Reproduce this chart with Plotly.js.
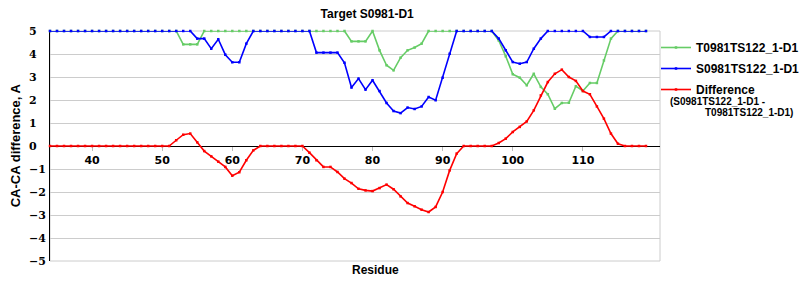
<!DOCTYPE html>
<html>
<head>
<meta charset="utf-8">
<script src="https://cdn.plot.ly/plotly-3.0.1.min.js"></script>
<style>html,body{margin:0;padding:0;background:#fff}#chart{width:800px;height:300px}</style>
</head>
<body>
<div id="chart"></div>
<script>
var residues = [34,35,36,37,38,39,40,41,42,43,44,45,46,47,48,49,50,51,52,53,54,55,56,57,58,59,60,61,62,63,64,65,66,67,68,69,70,71,72,73,74,75,76,77,78,79,80,81,82,83,84,85,86,87,88,89,90,91,92,93,94,95,96,97,98,99,100,101,102,103,104,105,106,107,108,109,110,111,112,113,114,115,116,117,118,119];

var seriesT = [5,5,5,5,5,5,5,5,5,5,5,5,5,5,5,5,5,5,
  5,4.42,4.42,4.42,
  5,5,5,5,5,5,5,5,5,5,5,5,5,5,5,5,5,5,5,5,5,
  4.55,4.55,4.55,5,
  4.16,3.51,3.29,3.84,4.16,4.28,4.45,
  5,5,5,5,5,5,5,5,5,5,
  4.59,3.9,3.12,2.97,2.64,3.14,2.57,2.25,1.62,1.87,1.88,2.6,2.39,2.74,2.74,3.72,4.67,
  5,5,5,5,5];

var seriesS = [5,5,5,5,5,5,5,5,5,5,5,5,5,5,5,5,5,5,5,5,5,
  4.67,4.67,4.23,4.64,3.97,3.64,3.64,4.45,
  5,5,5,5,5,5,5,5,5,
  4.06,4.06,4.06,4.06,3.62,2.54,2.93,2.45,2.86,2.39,1.87,1.52,1.43,1.67,1.61,1.72,2.13,1.99,2.97,4.01,
  5,5,5,5,5,5,
  4.67,4.16,3.65,3.58,3.65,4.23,4.67,
  5,5,5,5,5,5,
  4.74,4.74,4.74,
  5,5,5,5,5,5];

var seriesDiff = [0,0,0,0,0,0,0,0,0,0,0,0,0,0,0,0,0,0,
  0.25,0.49,0.54,0.16,-0.22,-0.45,-0.68,-0.91,-1.29,-1.14,-0.62,-0.19,
  0,0,0,0,0,0,0,
  -0.29,-0.62,-0.91,-0.91,-1.13,-1.42,-1.61,-1.86,-1.93,-1.96,-1.83,-1.68,-1.88,-2.19,-2.48,-2.62,-2.77,-2.87,-2.65,-2.0,-1.06,-0.33,
  0,0,0,0,0,
  0.13,0.32,0.61,0.83,1.07,1.55,2.2,2.78,3.14,3.32,3.0,2.83,2.39,2.25,1.72,1.19,0.54,0.1,
  0,0,0,0];

var names = ["T0981TS122_1-D1", "S0981TS122_1-D1", "Difference"];
var xTicks = [40,50,60,70,80,90,100,110];
var yTicks = [-5,-4,-3,-2,-1,0,1,2,3,4,5];

function mk(y, name, color, grp) {
  return {
    x: residues, y: y, name: name, type: 'scatter', mode: 'lines+markers', legendgroup: grp,
    line: {color: color, width: 1.6},
    marker: {color: color, symbol: 'square', size: 2.5},
    cliponaxis: false, hoverinfo: 'x+y'
  };
}

var data = [
  mk(seriesT, names[0], '#66cc66', 'g1'),
  mk(seriesS, names[1], '#0000ff', 'g2'),
  mk(seriesDiff, names[2], '#ff0000', 'g3'),
  {x: [], y: [], yaxis: 'y2', type: 'scatter', mode: 'lines', showlegend: false, hoverinfo: 'skip'}
];

var lib = 'Liberation Sans, Arial, sans-serif';

var layout = {
  width: 800, height: 300,
  margin: {l: 20, r: 140, t: 31, b: 39, pad: 0, autoexpand: false},
  paper_bgcolor: '#fff', plot_bgcolor: '#fff',
  title: {text: 'Target S0981-D1', x: 0.459, xref: 'container', xanchor: 'center', y: 0.953, yref: 'container', yanchor: 'middle',
          font: {family: lib, weight: 'bold', size: 12, color: '#000'}},
  showlegend: true,
  legend: {xref: 'container', yref: 'container', x: 0.82, xanchor: 'left', y: 0.89, yanchor: 'top', bgcolor: 'rgba(0,0,0,0)',
           font: {family: lib, weight: 'bold', size: 12, color: '#000'},
           itemwidth: 30, tracegroupgap: 2},
  xaxis: {domain: [0.046875, 1], range: [34, 121], anchor: 'free', position: 0.5, tickvals: xTicks, ticktext: xTicks.map(String),
          ticks: 'outside', ticklen: 4, tickcolor: '#bbbbbb', showline: true, linecolor: '#000', linewidth: 1,
          showgrid: false, zeroline: false, layer: 'below traces',
          tickfont: {family: 'DejaVu Sans, Verdana, sans-serif', weight: 'bold', size: 11, color: '#000'}},
  yaxis: {range: [-5, 5], tickvals: yTicks, ticks: '', showticklabels: false, showline: true, linecolor: '#000', linewidth: 1,
          showgrid: true, gridcolor: '#cccccc', gridwidth: 1, zeroline: false, layer: 'below traces'},
  yaxis2: {range: [-5, 5], tickvals: yTicks, overlaying: 'y', side: 'right', anchor: 'free', position: 0.0125,
           ticks: '', showline: false, showgrid: false, zeroline: false, ticklabelstandoff: 0,
           tickfont: {family: 'DejaVu Serif, serif', weight: 'bold', size: 11, color: '#000'}},
  shapes: [
    {type: 'rect', xref: 'x domain', yref: 'y domain', x0: 0, x1: 1, y0: 0, y1: 1, layer: 'below',
     line: {color: '#cccccc', width: 1}, fillcolor: 'rgba(0,0,0,0)'}
  ],
  annotations: [
    {text: 'CA-CA difference, A', xref: 'paper', yref: 'paper', x: -0.0078, y: 0.503, textangle: -90,
     showarrow: false, xanchor: 'center', yanchor: 'middle',
     font: {family: lib, weight: 'bold', size: 13, color: '#000'}},
    {text: 'Residue', xref: 'paper', yref: 'paper', x: 0.5547, y: -0.04, showarrow: false,
     xanchor: 'center', yanchor: 'middle',
     font: {family: 'Liberation Sans Narrow, Liberation Sans, Arial, sans-serif', weight: 'bold', size: 12, color: '#000'}},
    {text: '(S0981TS122_1-D1 -', xref: 'paper', yref: 'paper', x: 1.0125, y: 0.694, showarrow: false,
     xanchor: 'left', yanchor: 'middle',
     font: {family: lib, weight: 'bold', size: 10, color: '#000'}},
    {text: 'T0981TS122_1-D1)', xref: 'paper', yref: 'paper', x: 1.0672, y: 0.6465, showarrow: false,
     xanchor: 'left', yanchor: 'middle',
     font: {family: lib, weight: 'bold', size: 10, color: '#000'}}
  ]
};

Plotly.newPlot('chart', data, layout, {displayModeBar: false, staticPlot: true});
</script>
</body>
</html>
